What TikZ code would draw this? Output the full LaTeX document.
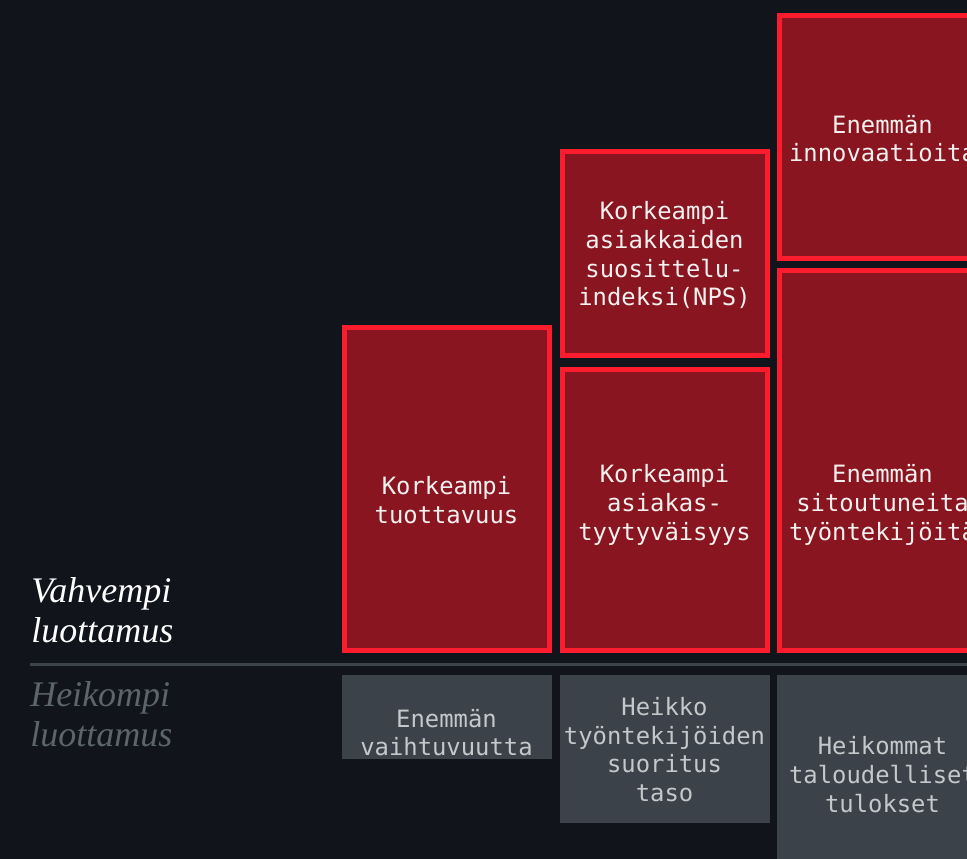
\documentclass[tikz,border=0pt]{standalone}
\usepackage{fontspec}
\setmainfont{Liberation Serif}
\setmonofont{DejaVu Sans Mono}
\usepackage{xcolor}
\definecolor{bgcol}{HTML}{11141B}
\definecolor{redfill}{HTML}{88151F}
\definecolor{redline}{HTML}{FC1C2D}
\definecolor{greyfill}{HTML}{3C4249}
\definecolor{sepcol}{HTML}{3D434B}
\definecolor{lighttext}{HTML}{F4F0F0}
\definecolor{greytext}{HTML}{C4C8CB}
\definecolor{weaktext}{HTML}{5C646C}
\tikzset{
  redbox/.style={draw=redline,line width=3.75pt,fill=redfill,inner sep=0pt,
                 minimum width=153.75pt},
  greybox/.style={fill=greyfill,inner sep=0pt,minimum width=157.5pt},
  lbl/.style={align=center,inner sep=0pt,text=lighttext,
              font=\ttfamily\fontsize{17.9}{21.5}\selectfont},
  glbl/.style={lbl,text=greytext},
  side/.style={align=left,anchor=base west,inner sep=0pt,
               font=\itshape\fontsize{27}{29.4}\selectfont},
  sep/.style={draw=sepcol,line width=1.9pt},
}

\begin{document}
\begin{tikzpicture}[x=0.75pt,y=-0.75pt]
\useasboundingbox (0,0) rectangle (967,859);
\fill[bgcol] (0,0) rectangle (967,859);
\clip (0,0) rectangle (967,859);
% side labels
\node[side,text=white] (strong) at (31,642) {Vahvempi\\luottamus};
\node[side,text=weaktext] (weak) at (30,746) {Heikompi\\luottamus};
% separator
\coordinate (sepL) at (30,664.5);
\coordinate (sepR) at (980,664.5);
\draw[sep] (sepL) -- (sepR);
% stronger trust: red boxes
\node[redbox,minimum height=242.25pt] (prod) at (447,489) {};
\node[lbl] (prodT) at (446.5,500) {Korkeampi\\tuottavuus};
\node[redbox,minimum height=153pt] (nps) at (664.5,253.5) {};
\node[lbl] (npsT) at (664.5,255.5) {Korkeampi\\asiakkaiden\\suosittelu-\\indeksi(NPS)};
\node[redbox,minimum height=210.75pt] (sat) at (664.5,510) {};
\node[lbl] (satT) at (664.5,505) {Korkeampi\\asiakas-\\tyytyv\"aisyys};
\node[redbox,minimum height=182.25pt] (inno) at (882,137) {};
\node[lbl] (innoT) at (882.5,138.5) {Enemm\"an\\innovaatioita};
\node[redbox,minimum height=285pt] (eng) at (882,460.5) {};
\node[lbl] (engT) at (882.5,505) {Enemm\"an\\sitoutuneita\\ty\"ontekij\"oit\"a};
% weaker trust: grey boxes
\node[greybox,minimum height=63pt] (turn) at (446.5,717) {};
\node[glbl] (turnT) at (446.5,732.5) {Enemm\"an\\vaihtuvuutta};
\node[greybox,minimum height=111pt] (perf) at (664.5,749) {};
\node[glbl] (perfT) at (664.5,749.5) {Heikko\\ty\"ontekij\"oiden\\suoritus\\taso};
\node[greybox,minimum height=150pt] (fin) at (882,775) {};
\node[glbl] (finT) at (882.5,774.5) {Heikommat\\taloudelliset\\tulokset};
\end{tikzpicture}
\end{document}
